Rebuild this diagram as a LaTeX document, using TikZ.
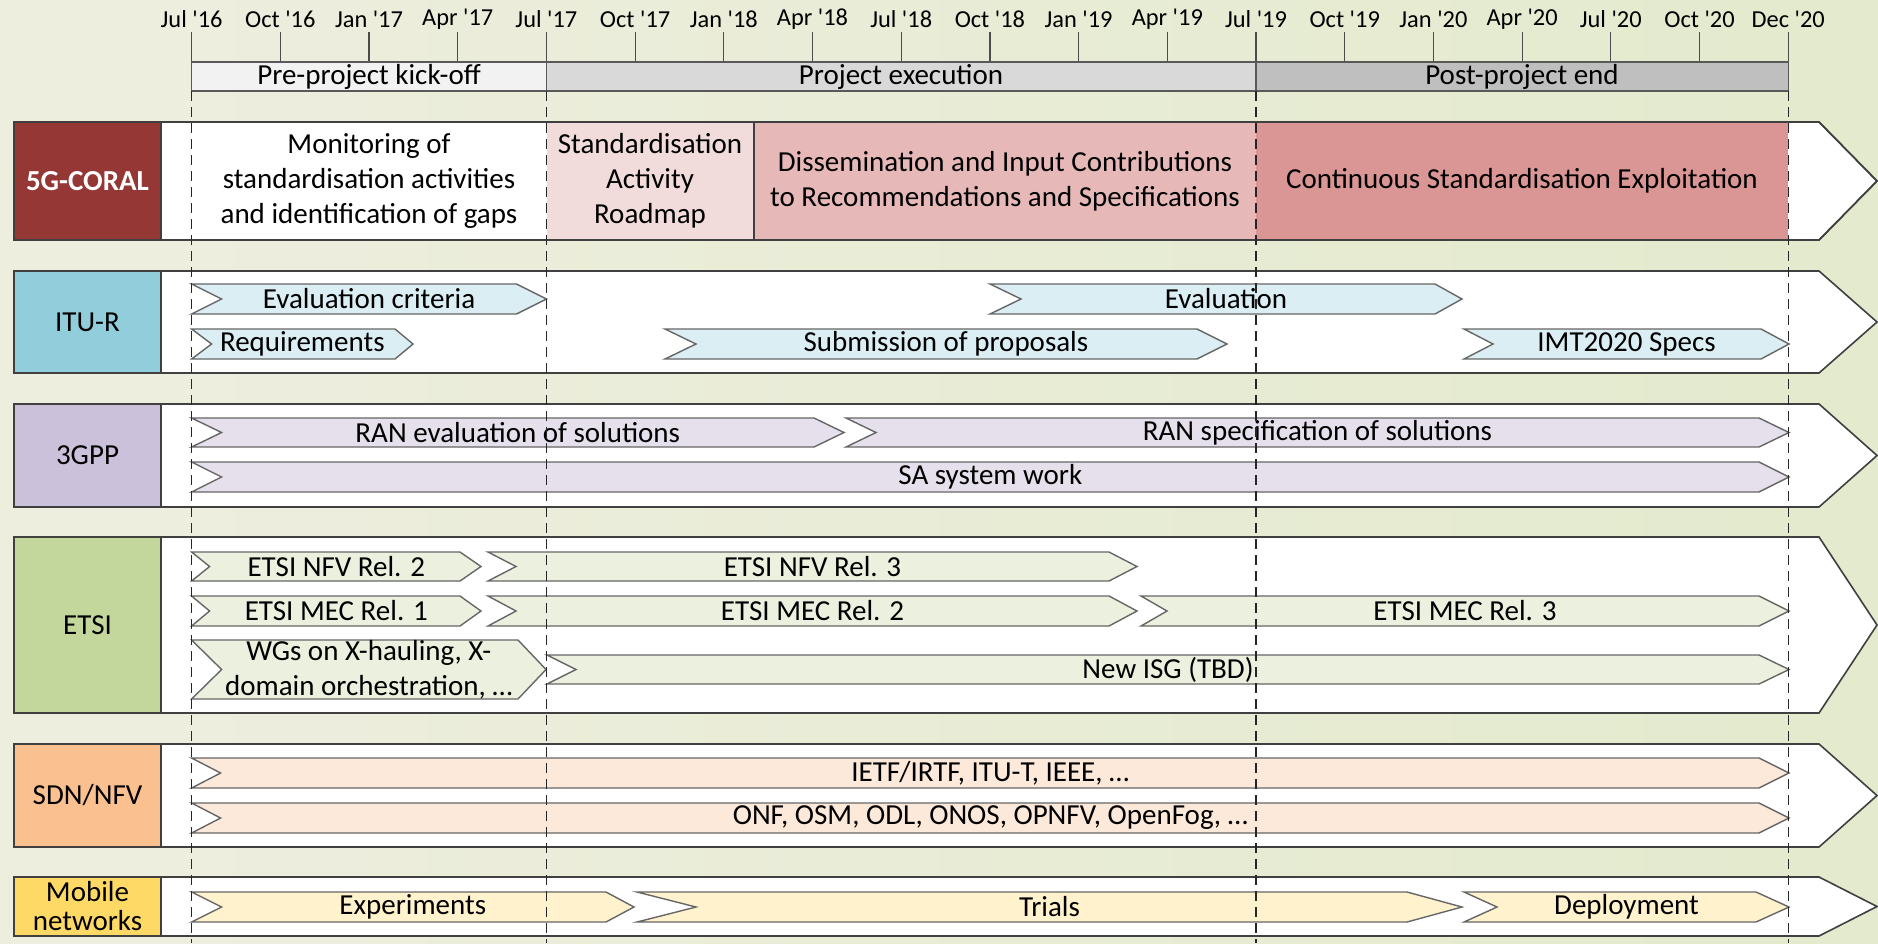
\documentclass[tikz,border=0pt]{standalone}
\usepackage{fontspec}
\setmainfont{Carlito}

\definecolor{bgl}{HTML}{EEEEDF}
\definecolor{bgm}{HTML}{FBFBF7}
\definecolor{bgr}{HTML}{E3EACD}
\definecolor{coral}{HTML}{953735}
\definecolor{roadmap}{HTML}{F2DCDB}
\definecolor{dissem}{HTML}{E6B9B8}
\definecolor{exploit}{HTML}{D99694}
\definecolor{itulbl}{HTML}{92CDDC}
\definecolor{itubar}{HTML}{DBEEF4}
\definecolor{gpplbl}{HTML}{CCC1DA}
\definecolor{gppbar}{HTML}{E5E0EC}
\definecolor{etsilbl}{HTML}{C3D69B}
\definecolor{etsibar}{HTML}{EBF1DE}
\definecolor{sdnlbl}{HTML}{FAC090}
\definecolor{sdnbar}{HTML}{FDE9D9}
\definecolor{moblbl}{HTML}{FFD966}
\definecolor{mobbar}{HTML}{FFF2CC}

\tikzset{
    rowbox/.style={draw=black!75, line width=0.8pt},
    labelbox/.style={draw=black!75, line width=0.8pt},
    bar/.style={draw=black!60, line width=0.7pt},
    phase/.style={draw=black!65, line width=0.7pt},
    tickline/.style={draw=black!70, line width=0.6pt},
    boundary/.style={draw=black!85, line width=0.6pt, dash pattern=on 5pt off 3pt},
    txt/.style={font=\fontsize{14.5}{17.5}\selectfont, align=center, inner sep=0pt},
    ticktxt/.style={font=\fontsize{12.2}{14}\selectfont, inner sep=0pt}
}

% lane: name, label colour, y top, y bottom, label text
\newcommand{\lane}[5]{%
    \draw[rowbox, fill=white] (14,#3) -- (1819,#3) -- (1877,{(#3+#4)/2}) -- (1819,#4) -- (14,#4) -- cycle;
    \draw[labelbox, fill=#2] (14,#3) rectangle (161,#4);
    \node[txt] (#1) at (87.5,{(#3+#4)/2}) {#5};
}
% chevron bar: name, fill, x left, x right, y top, y bottom, head, notch, text
\newcommand{\chev}[9]{%
    \draw[bar, fill=#2] (#3,#5) -- ({#4-#7},#5) -- (#4,{(#5+#6)/2}) -- ({#4-#7},#6) -- (#3,#6) -- ({#3+#8},{(#5+#6)/2}) -- cycle;
    \node[txt] (#1) at ({(#3+#4)/2},{(#5+#6)/2}) {#9};
}

\begin{document}
\begin{tikzpicture}[x=0.5pt, y=-0.5pt]
    \useasboundingbox (0,0) rectangle (1878,943);
    \shade[left color=bgl, middle color=bgm, right color=bgr] (0,0) rectangle (1878,943);

    % Time axis
    \foreach \m/\yy [count=\i from 0] in {Jul/16,Oct/16,Jan/17,Apr/17,Jul/17,Oct/17,Jan/18,Apr/18,Jul/18,Oct/18,Jan/19,Apr/19,Jul/19,Oct/19,Jan/20,Apr/20,Jul/20,Oct/20,Dec/20}
    {
        \node[ticktxt] (t\i) at ({191.6+88.7*\i},19) {\m\ \textquotesingle\yy};
        \draw[tickline] ({191.6+88.7*\i},32) -- ({191.6+88.7*\i},62);
    }

    % Project phases
    \draw[phase, fill=black!5] (191.6,62) rectangle (546.5,91);
    \draw[phase, fill=black!15] (546.5,62) rectangle (1256,91);
    \draw[phase, fill=black!25] (1256,62) rectangle (1788.2,91);
    \node[txt] (prekick) at (369,76.5) {Pre-project kick-off};
    \node[txt] (execution) at (901,76.5) {Project execution};
    \node[txt] (postend) at (1522,76.5) {Post-project end};

    % 5G-CORAL
    \lane{coralrow}{coral}{122}{240}{\textcolor{white}{\bfseries 5G-CORAL}}
    \fill[roadmap] (546.5,122) rectangle (754,240);
    \fill[dissem] (754,122) rectangle (1256,240);
    \fill[exploit] (1256,122) rectangle (1788.2,240);
    \draw[rowbox] (754,122) -- (754,240);
    \draw[rowbox] (161,122) -- (1819,122) -- (1877,181) -- (1819,240) -- (161,240);
    \node[txt] (monitor) at (369,181) {Monitoring of\\standardisation activities\\and identification of gaps};
    \node[txt] (roadmapbox) at (650,181) {Standardisation\\Activity\\Roadmap};
    \node[txt] (dissembox) at (1005,181) {Dissemination and Input Contributions\\to Recommendations and Specifications};
    \node[txt] (exploitbox) at (1522,181) {Continuous Standardisation Exploitation};

    % ITU-R
    \lane{iturow}{itulbl}{271}{373}{ITU-R}
    \chev{evalcrit}{itubar}{191.6}{546.5}{284}{314}{30}{30}{Evaluation criteria}
    \chev{require}{itubar}{191.6}{413}{329}{359}{18}{20}{Requirements}
    \chev{evaluation}{itubar}{990}{1462}{284}{314}{27}{31}{Evaluation}
    \chev{submission}{itubar}{665}{1227}{329}{359}{30}{31}{Submission of proposals}
    \chev{imtspecs}{itubar}{1464}{1789}{329}{359}{28}{29}{IMT2020 Specs}

    % 3GPP
    \lane{gpprow}{gpplbl}{404}{507}{3GPP}
    \chev{raneval}{gppbar}{191.6}{844}{418}{447}{30}{30}{RAN evaluation of solutions}
    \chev{ranspec}{gppbar}{846}{1789}{418}{447}{30}{30}{RAN specification of solutions}
    \chev{sawork}{gppbar}{191.6}{1789}{462}{492}{30}{30}{SA system work}

    % ETSI
    \lane{etsirow}{etsilbl}{537}{713}{ETSI}
    \chev{nfvtwo}{etsibar}{191.6}{481}{552}{581}{21}{18}{ETSI NFV Rel. 2}
    \chev{nfvthree}{etsibar}{488}{1137}{552}{581}{28}{28}{ETSI NFV Rel. 3}
    \chev{mecone}{etsibar}{191.6}{481}{596}{626}{21}{18}{ETSI MEC Rel. 1}
    \chev{mectwo}{etsibar}{488}{1137}{596}{626}{28}{28}{ETSI MEC Rel. 2}
    \chev{mecthree}{etsibar}{1141}{1789}{596}{626}{30}{26}{ETSI MEC Rel. 3}
    \chev{wgroups}{etsibar}{191.6}{546}{640}{699}{28}{30}{WGs on X-hauling, X-\\domain orchestration, \dots}
    \chev{newisg}{etsibar}{547}{1789}{655}{684}{30}{29}{New ISG (TBD)}

    % SDN/NFV
    \lane{sdnrow}{sdnlbl}{744}{847}{SDN/NFV}
    \chev{ietf}{sdnbar}{191.6}{1789}{758}{788}{30}{29}{IETF/IRTF, ITU-T, IEEE, \dots}
    \chev{onf}{sdnbar}{191.6}{1789}{803}{833}{30}{29}{ONF, OSM, ODL, ONOS, OPNFV, OpenFog, \dots}

    % Mobile networks
    \lane{mobrow}{moblbl}{877}{936}{Mobile\\[-3pt]networks}
    \chev{experiments}{mobbar}{191.6}{634}{892}{922}{28}{30}{Experiments}
    \chev{trials}{mobbar}{637}{1462}{892}{922}{55}{59}{Trials}
    \chev{deploy}{mobbar}{1464}{1789}{892}{922}{33}{33}{Deployment}

    % Phase boundaries
    \foreach \x in {191.6,546.5,1256,1788.2}
        \draw[boundary] (\x,91) -- (\x,943);
\end{tikzpicture}
\end{document}
